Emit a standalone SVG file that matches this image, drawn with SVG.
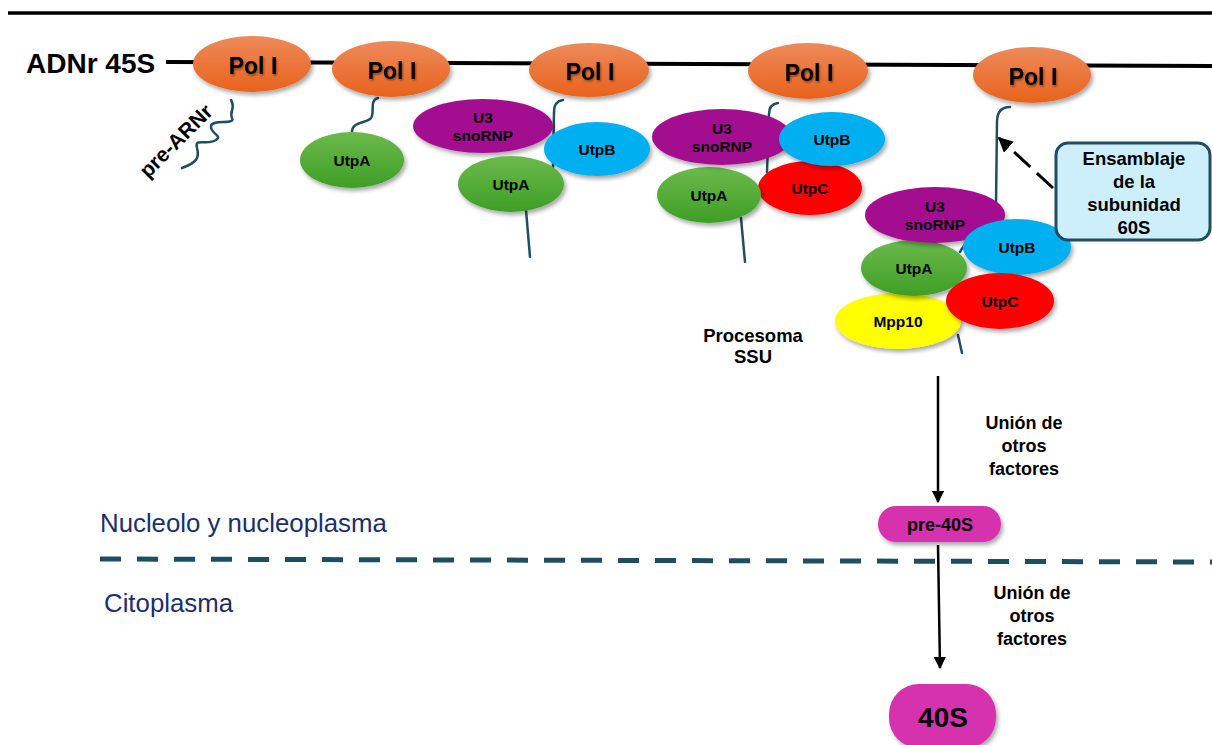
<svg xmlns="http://www.w3.org/2000/svg" width="1212" height="745" viewBox="0 0 1212 745">
<defs>
<linearGradient id="gOr" x1="0" y1="0" x2="0" y2="1"><stop offset="0" stop-color="#EE8A5A"/><stop offset="1" stop-color="#E8621C"/></linearGradient>
<linearGradient id="gGr" x1="0" y1="0" x2="0" y2="1"><stop offset="0" stop-color="#6BBA4C"/><stop offset="1" stop-color="#3F9E25"/></linearGradient>
<filter id="sh" x="-20%" y="-20%" width="150%" height="160%"><feDropShadow dx="2" dy="3" stdDeviation="2" flood-color="#000" flood-opacity="0.35"/></filter>
<filter id="tsh" x="-10%" y="-10%" width="130%" height="140%"><feDropShadow dx="1" dy="1.5" stdDeviation="0.8" flood-color="#000" flood-opacity="0.45"/></filter>
<marker id="ah" viewBox="0 0 10 10" refX="9" refY="5" markerWidth="5" markerHeight="5" orient="auto" markerUnits="strokeWidth"><path d="M0,0 L10,5 L0,10 z" fill="#000"/></marker>
<style>
.t{font-family:"Liberation Sans",Arial,sans-serif;font-weight:bold;fill:#000;text-anchor:middle}
.pol{font-size:23px}
.lab{font-size:15.5px}
.tail{fill:none;stroke:#1F4E61;stroke-width:2.5;stroke-linecap:round}
.or{fill:url(#gOr);filter:url(#sh)}
.gr{fill:url(#gGr);filter:url(#sh)}
.pu{fill:#A30C90;filter:url(#sh)}
.bl{fill:#00AFEF;filter:url(#sh)}
.rd{fill:#FF0000;filter:url(#sh)}
.ye{fill:#FFFF00;filter:url(#sh)}
.mg{fill:#D633AD;filter:url(#sh)}
.f18{font-size:18px}
.reg{font-family:"Liberation Sans",Arial,sans-serif;font-size:25.8px;fill:#1B2F6B}
</style>
</defs>
<rect width="1212" height="745" fill="#fff"/>
<line x1="8" y1="13" x2="1212" y2="13" stroke="#000" stroke-width="3.5"/>
<g id="dna">
<text x="26" y="73" class="t" style="text-anchor:start;font-size:28px">ADNr 45S</text>
<line x1="166" y1="62" x2="1212" y2="66" stroke="#000" stroke-width="4"/>
</g>
<g id="tails">
<path class="tail" d="M231,100 C236,108 229,112 232,118 C236,125 212,119 211,126 C210,134 223,135 216,140 C207,146 194,137 197,148 C200,158 196,163 182,168"/>
<path class="tail" d="M378,98 C370,100 374,110 372,116 C370,124 352,120 352,132"/>
<path class="tail" d="M563,100 C556,101 554,106 554,112 L553,168"/>
<path class="tail" d="M526,210 L530,257"/>
<path class="tail" d="M778,103 C771,104 769,108 769,114 L767,172"/>
<path class="tail" d="M741,218 L745,262"/>
<path class="tail" d="M1010,107 C1000,107 997,113 997,122 L996,205 C990,225 965,240 960,252"/>
<path class="tail" d="M958,335 L962,353"/>
</g>
<g id="polI-1"><ellipse class="or" cx="252" cy="64" rx="59" ry="28"/><text x="253" y="74" class="t pol" filter="url(#tsh)">Pol I</text></g>
<g id="polI-2"><ellipse class="or" cx="391" cy="69" rx="59" ry="28"/><text x="392" y="79" class="t pol" filter="url(#tsh)">Pol I</text></g>
<g id="polI-3"><ellipse class="or" cx="589" cy="70" rx="60" ry="27"/><text x="590" y="80" class="t pol" filter="url(#tsh)">Pol I</text></g>
<g id="polI-4"><ellipse class="or" cx="808" cy="71" rx="60" ry="28"/><text x="809" y="81" class="t pol" filter="url(#tsh)">Pol I</text></g>
<g id="polI-5"><ellipse class="or" cx="1032" cy="75" rx="59" ry="28"/><text x="1033" y="85" class="t pol" filter="url(#tsh)">Pol I</text></g>
<g id="pre-ARNr"><text class="t" style="font-size:21px" transform="translate(176,141) rotate(-45)" x="0" y="7">pre-ARNr</text></g>
<g id="utpA-1"><ellipse class="gr" cx="352" cy="160" rx="52" ry="28"/><text x="352" y="166" class="t lab">UtpA</text></g>
<g id="complex-3">
<ellipse class="pu" cx="483" cy="126" rx="70" ry="27"/><text x="483" y="123" class="t lab">U3</text><text x="483" y="141" class="t lab">snoRNP</text>
<ellipse class="bl" cx="597" cy="149" rx="53" ry="27"/><text x="597" y="155" class="t lab">UtpB</text>
<ellipse class="gr" cx="511" cy="184" rx="53" ry="28"/><text x="511" y="190" class="t lab">UtpA</text>
</g>
<g id="complex-4">
<ellipse class="rd" cx="810" cy="188" rx="52" ry="27"/><text x="810" y="194" class="t lab">UtpC</text>
<ellipse class="gr" cx="709" cy="195" rx="52" ry="28"/><text x="709" y="201" class="t lab">UtpA</text>
<ellipse class="pu" cx="722" cy="137" rx="70" ry="28"/><text x="722" y="134" class="t lab">U3</text><text x="722" y="152" class="t lab">snoRNP</text>
<ellipse class="bl" cx="832" cy="139" rx="53" ry="27"/><text x="832" y="145" class="t lab">UtpB</text>
</g>
<g id="complex-5">
<ellipse class="ye" cx="898" cy="321" rx="63" ry="28"/><text x="898" y="327" class="t lab">Mpp10</text>
<ellipse class="gr" cx="914" cy="268" rx="53" ry="28"/><text x="914" y="274" class="t lab">UtpA</text>
<ellipse class="pu" cx="935" cy="215" rx="70" ry="28"/><text x="935" y="212" class="t lab">U3</text><text x="935" y="230" class="t lab">snoRNP</text>
<ellipse class="bl" cx="1017" cy="247" rx="54" ry="28"/><text x="1017" y="253" class="t lab">UtpB</text>
<ellipse class="rd" cx="1000" cy="301" rx="54" ry="28"/><text x="1000" y="307" class="t lab">UtpC</text>
</g>
<g id="procesoma"><text x="753" y="342" class="t" style="font-size:18.5px">Procesoma</text><text x="753" y="363" class="t" style="font-size:18.5px">SSU</text></g>
<g id="ensamblaje">
<rect x="1056" y="143" width="154" height="97" rx="12" fill="#CDEFFB" stroke="#1F4E61" stroke-width="3"/>
<text x="1134" y="165" class="t" style="font-size:18.5px">Ensamblaje</text>
<text x="1134" y="188" class="t" style="font-size:18.5px">de la</text>
<text x="1134" y="211" class="t" style="font-size:18.5px">subunidad</text>
<text x="1134" y="234" class="t" style="font-size:18.5px">60S</text>
</g>
<g id="pre-40S"><rect x="878" y="506" width="123" height="36" rx="18" class="mg"/><text x="940" y="531" class="t f18">pre-40S</text></g>
<g id="n40S"><rect x="889" y="684" width="107" height="64" rx="30" class="mg"/><text x="943" y="727" class="t" style="font-size:28px">40S</text></g>
<g id="regions">
<line x1="100" y1="559" x2="1212" y2="562" stroke="#1F4E61" stroke-width="5" stroke-dasharray="21 16"/>
<text x="100" y="532" class="reg">Nucleolo y nucleoplasma</text>
<text x="104" y="612" class="reg">Citoplasma</text>
</g>
<g id="connectors">
<line x1="1053" y1="188" x2="999" y2="138" stroke="#000" stroke-width="3" stroke-dasharray="22 9" marker-end="url(#ah)"/>
<line x1="938" y1="376" x2="938" y2="502" stroke="#000" stroke-width="2.5" marker-end="url(#ah)"/>
<line x1="938" y1="545" x2="940" y2="668" stroke="#000" stroke-width="2.5" marker-end="url(#ah)"/>
</g>
<g id="labels">
<text x="1024" y="429" class="t f18">Unión de</text>
<text x="1024" y="452" class="t f18">otros</text>
<text x="1024" y="475" class="t f18">factores</text>
<text x="1032" y="599" class="t f18">Unión de</text>
<text x="1032" y="622" class="t f18">otros</text>
<text x="1032" y="645" class="t f18">factores</text>
</g>
</svg>
